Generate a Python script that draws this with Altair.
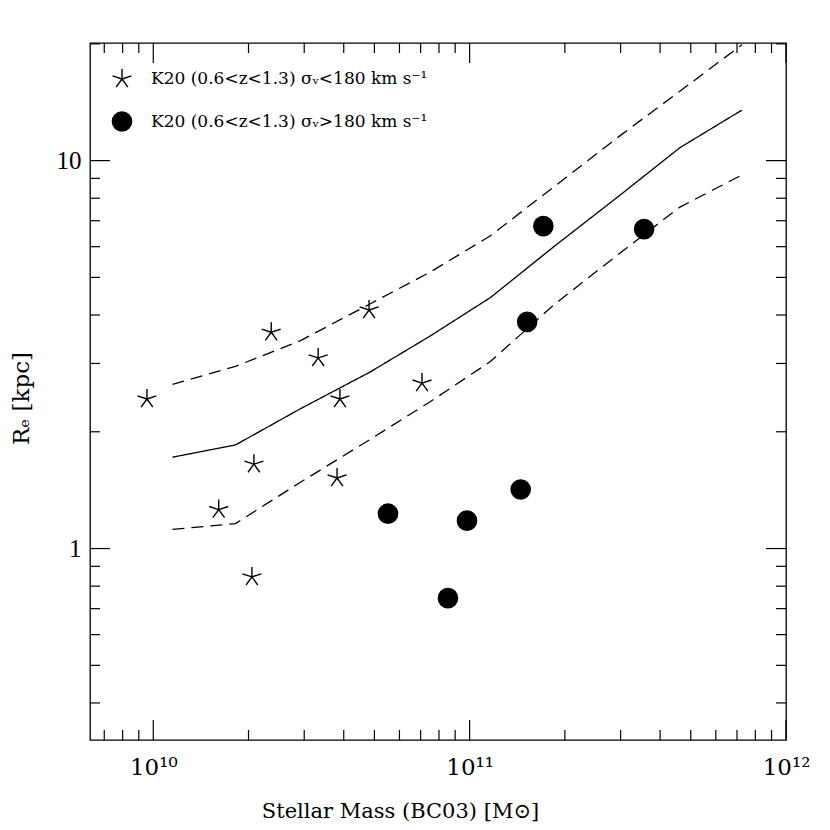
import altair as alt
import pandas as pd

# ---- data ----
star_mass = [9.55e9, 2.36e10, 3.32e10, 4.81e10, 3.89e10, 7.07e10, 2.08e10, 1.61e10, 3.81e10, 2.05e10]
star_re = [2.43, 3.61, 3.10, 4.12, 2.43, 2.67, 1.65, 1.26, 1.52, 0.845]
circ_mass = [1.71e11, 3.56e11, 1.52e11, 5.52e10, 9.81e10, 1.45e11, 8.54e10]
circ_re = [6.78, 6.66, 3.84, 1.23, 1.18, 1.42, 0.745]

line_mass = [1.15e10, 1.82e10, 2.91e10, 4.84e10, 7.50e10, 1.16e11, 1.86e11, 2.99e11, 4.62e11, 7.26e11]
median_re = [1.72, 1.85, 2.29, 2.85, 3.53, 4.43, 6.03, 8.15, 10.8, 13.5]
upper_re = [2.65, 2.95, 3.43, 4.27, 5.16, 6.39, 8.60, 11.6, 15.1, 19.9]
lower_re = [1.12, 1.16, 1.48, 1.91, 2.39, 3.03, 4.27, 5.78, 7.59, 9.19]

x_major = [1e10, 1e11, 1e12]
x_minor = [7e9, 8e9, 9e9] + [k * 1e10 for k in range(2, 10)] + [k * 1e11 for k in range(2, 10)]
y_major = [1, 10]
y_minor = [0.4, 0.5, 0.6, 0.7, 0.8, 0.9] + [float(k) for k in range(2, 10)] + [20.0]

G1 = "K20 (0.6<z<1.3) σᵥ<180 km s⁻¹"
G2 = "K20 (0.6<z<1.3) σᵥ>180 km s⁻¹"

W, H = 696, 697
STAR = "M0,0L0,-1M0,0L0.951,-0.309M0,0L0.588,0.809M0,0L-0.588,0.809M0,0L-0.951,-0.309"
SERIF = "Liberation Serif"
DSERIF = "DejaVu Serif"

pts = pd.DataFrame({
    "mass": star_mass + circ_mass,
    "re": star_re + circ_re,
    "group": [G1] * len(star_mass) + [G2] * len(circ_mass),
})
lines = pd.DataFrame({
    "mass": line_mass * 3,
    "re": median_re + upper_re + lower_re,
    "series": ["median"] * len(line_mass) + ["upper"] * len(line_mass) + ["lower"] * len(line_mass),
})

xscale = alt.Scale(type="log", domain=[10 ** 9.8, 1e12], nice=False)
yscale = alt.Scale(type="log", domain=[0.321, 20.1], nice=False)
xaxis = alt.Axis(
    values=x_major, ticks=False, domain=False, grid=False, labelFlush=False,
    labelExpr="datum.value < 5e10 ? '10¹⁰' : (datum.value < 5e11 ? '10¹¹' : '10¹²')",
    labelFont=DSERIF, labelFontSize=23, labelPadding=16, labelColor="black",
    titleFont=DSERIF, titleFontSize=21, titleFontWeight="normal", titleColor="black",
    titleX=310, titleY=77, titleAlign="center", titleBaseline="alphabetic",
)
yaxis = alt.Axis(
    values=y_major, ticks=False, domain=False, grid=False, labelFlush=False,
    labelExpr="datum.value < 5 ? '1' : '10'",
    labelFont=SERIF, labelFontSize=25, labelPadding=9, labelColor="black",
    titleFont=DSERIF, titleFontSize=23, titleFontWeight="normal", titleColor="black",
    titleX=-69, titleY=355, titleAngle=-90, titleAlign="center", titleBaseline="middle",
)
XT = "Stellar Mass (BC03) [M⊙]"
YT = "Rₑ [kpc]"


def X():
    return alt.X("mass:Q", scale=xscale, axis=xaxis, title=XT)


def Y():
    return alt.Y("re:Q", scale=yscale, axis=yaxis, title=YT)


layers = []

line_layer = alt.Chart(lines).mark_line(color="black", strokeWidth=1.3).encode(
    x=X(), y=Y(), detail="series:N",
    strokeDash=alt.StrokeDash("series:N", scale=alt.Scale(domain=["median", "upper", "lower"],
                                                            range=[[1, 0], [12, 7], [12, 7]]), legend=None),
)
layers.append(line_layer)

leg = alt.Legend(title=None, orient="none", legendX=21, legendY=25, padding=0,
                 labelFont=DSERIF, labelFontSize=17, labelColor="black", labelLimit=0,
                 labelOffset=18, rowPadding=19, symbolStrokeWidth=1.4, symbolOpacity=1)

point_layer = alt.Chart(pts).mark_point(filled=False, strokeWidth=1.4, opacity=1).encode(
    x=X(), y=Y(),
    shape=alt.Shape("group:N", scale=alt.Scale(domain=[G1, G2], range=[STAR, "circle"]), legend=leg),
    size=alt.Size("group:N", scale=alt.Scale(domain=[G1, G2], range=[400, 370]), legend=leg),
    fill=alt.Fill("group:N", scale=alt.Scale(domain=[G1, G2], range=["black", "black"]), legend=leg),
    stroke=alt.Stroke("group:N", scale=alt.Scale(domain=[G1, G2], range=["black", "black"]), legend=leg),
)
layers.append(point_layer)

# inward ticks on all four sides
for vals, L in [(x_major, 20), (x_minor, 10)]:
    df = pd.DataFrame({"mass": vals})
    layers.append(alt.Chart(df).mark_rule(color="black", strokeWidth=1.2).encode(
        x=X(), y=alt.value(H), y2=alt.value(H - L)))
    layers.append(alt.Chart(df).mark_rule(color="black", strokeWidth=1.2).encode(
        x=X(), y=alt.value(0), y2=alt.value(L)))
for vals, L in [(y_major, 20), (y_minor, 10)]:
    df = pd.DataFrame({"re": vals})
    layers.append(alt.Chart(df).mark_rule(color="black", strokeWidth=1.2).encode(
        y=Y(), x=alt.value(0), x2=alt.value(L)))
    layers.append(alt.Chart(df).mark_rule(color="black", strokeWidth=1.2).encode(
        y=Y(), x=alt.value(W), x2=alt.value(W - L)))

chart = alt.layer(*layers).properties(
    width=W, height=H,
    autosize=alt.AutoSizeParams(type="none"),
    padding={"left": 82, "top": 35, "right": 36, "bottom": 85},
    background="white",
).configure_view(stroke="black", strokeWidth=1.3)

chart.save("out.html", embed_options={"renderer": "svg", "actions": False})
